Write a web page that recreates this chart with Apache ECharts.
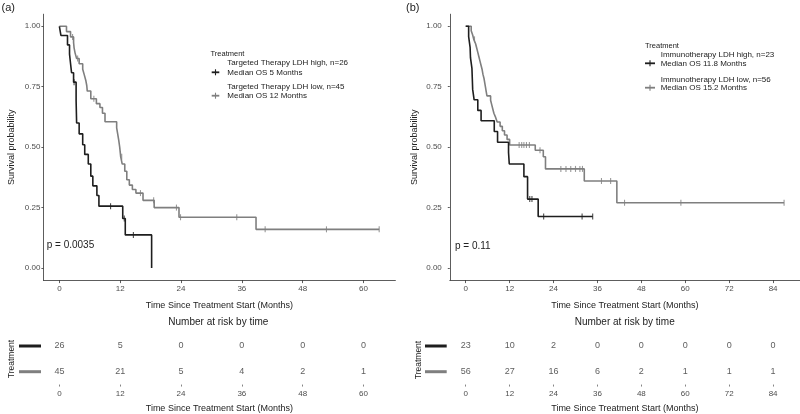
<!DOCTYPE html>
<html><head><meta charset="utf-8">
<script src="https://cdn.jsdelivr.net/npm/echarts@6/dist/echarts.min.js"></script>
<style>html,body{margin:0;padding:0;background:#fff}#c{width:800px;height:414px}</style>
</head><body><div id="c"></div>
<script>
// ---------- DATA ----------
const xTicksA = [0, 12, 24, 36, 48, 60];
const xTicksB = [0, 12, 24, 36, 48, 60, 72, 84];
const yTicks = [0, 0.25, 0.5, 0.75, 1];

// Panel (a) Targeted therapy, LDH high (n=26)
const aHighT = [0, 0.3, 1.6, 2.0, 2.2, 2.4, 2.8, 3.3, 3.4, 3.9, 4.6, 5.0, 5.7, 6.2, 6.6, 7.4, 7.8, 12.5, 13.0, 18.2];
const aHighS = [1, 0.962, 0.923, 0.885, 0.846, 0.808, 0.769, 0.692, 0.60, 0.555, 0.51, 0.47, 0.43, 0.38, 0.34, 0.30, 0.256, 0.205, 0.137, 0];
const aHighCens = [2.9, 10.1, 12.8, 14.6];
// Panel (a) Targeted therapy, LDH low (n=45)
const aLowT = [0, 1.4, 2.2, 2.8, 2.9, 3.1, 3.4, 3.9, 4.6, 4.9, 5.2, 5.4, 5.5, 6.2, 7.3, 8.0, 8.5, 9.0, 11.3, 11.5, 11.7, 11.9, 12.1, 12.4, 12.9, 13.3, 13.8, 14.4, 15.1, 16.5, 18.7, 23.6, 38.8, 63.1];
const aLowS = [1, 0.978, 0.956, 0.933, 0.911, 0.889, 0.867, 0.845, 0.822, 0.80, 0.777, 0.755, 0.732, 0.70, 0.68, 0.664, 0.64, 0.605, 0.58, 0.555, 0.53, 0.50, 0.46, 0.43, 0.40, 0.365, 0.343, 0.325, 0.31, 0.28, 0.25, 0.21, 0.16, 0.16];
const aLowCens = [2.6, 3.6, 6.8, 12.3, 16.0, 18.6, 23.1, 23.9, 35.0, 40.6, 52.7, 63.1];

// Panel (b) Immunotherapy, LDH high (n=23)
const bHighT = [0, 0.8, 1.2, 1.3, 1.7, 1.8, 1.9, 2.3, 3.3, 4.2, 7.8, 8.7, 11.7, 11.9, 15.9, 16.9, 19.8, 34.7];
const bHighS = [1, 0.957, 0.913, 0.870, 0.826, 0.783, 0.739, 0.696, 0.652, 0.609, 0.565, 0.520, 0.478, 0.430, 0.378, 0.285, 0.213, 0.213];
const bHighCens = [17.5, 18.1, 21.3, 31.8, 34.7];
// Panel (b) Immunotherapy, LDH low (n=56)
const bLowT = [0, 1.5, 1.9, 2.2, 2.7, 3.0, 3.3, 3.6, 3.9, 4.2, 4.5, 4.7, 5.0, 5.2, 5.4, 5.6, 5.8, 6.8, 7.1, 7.4, 7.7, 8.2, 8.6, 9.4, 10.0, 10.6, 11.3, 12.0, 19.0, 21.2, 21.8, 32.4, 41.3, 87.0];
const bLowS = [1, 0.982, 0.964, 0.946, 0.928, 0.910, 0.892, 0.874, 0.856, 0.838, 0.820, 0.802, 0.784, 0.766, 0.748, 0.730, 0.712, 0.694, 0.676, 0.658, 0.640, 0.622, 0.604, 0.586, 0.568, 0.550, 0.532, 0.509, 0.487, 0.460, 0.410, 0.360, 0.270, 0.270];
const bLowCens = [2.4, 14.6, 15.3, 15.9, 16.6, 17.4, 20.3, 26.0, 27.4, 28.7, 30.0, 31.2, 31.9, 37.1, 39.6, 43.4, 58.8, 87.0];

// Number at risk
const riskGroups = ['high', 'low'];
const riskTimesA = [0, 12, 24, 36, 48, 60];
const riskAHigh = [26, 5, 0, 0, 0, 0];
const riskALow = [45, 21, 5, 4, 2, 1];
const riskTimesB = [0, 12, 24, 36, 48, 60, 72, 84];
const riskBHigh = [23, 10, 2, 0, 0, 0, 0, 0];
const riskBLow = [56, 27, 16, 6, 2, 1, 1, 1];

// ---------- BUILD ----------
const FONT = '"Liberation Sans", Arial, Helvetica, sans-serif';
const BLACK = '#1e1e1e', GREY = '#7f7f7f';
function stepAt(T, S, c) { let v = S[0]; for (let i = 0; i < T.length; i++) if (T[i] <= c) v = S[i]; return v; }
function pairs(T, S) { return T.map((t, i) => [t, S[i]]); }
function cens(C, T, S) { return C.map(c => [c, stepAt(T, S, c)]); }
function riskData(times, hi, lo) {
  return times.map((t, i) => [t, 'high', hi[i]]).concat(times.map((t, i) => [t, 'low', lo[i]]));
}

const chart = echarts.init(document.getElementById('c'), null, { renderer: 'canvas' });
const rangeA = { min: -3.155, max: 66.3 }, rangeB = { min: -4.35, max: 91.35 };
const grids = [
  { left: 43.4, top: 14.2, width: 352, height: 265.9 },
  { left: 449.8, top: 14.2, width: 350.5, height: 265.9 },
  { left: 43.4, top: 333.15, width: 352, height: 51.4 },
  { left: 449.8, top: 333.15, width: 350.5, height: 51.4 }
];
const axisTitle = 'Time Since Treatment Start (Months)';
function mainX(gi, r, ticks) {
  return {
    type: 'value', gridIndex: gi, min: r.min, max: r.max,
    axisLine: { show: true, onZero: false, lineStyle: { color: '#333', width: 0.8 } },
    axisTick: { show: true, length: 3, customValues: ticks, lineStyle: { color: '#333', width: 0.8 } },
    axisLabel: { customValues: ticks, fontSize: 8, color: '#4d4d4d', margin: 5, fontFamily: FONT },
    splitLine: { show: false },
    name: axisTitle, nameLocation: 'middle', nameGap: 20.5,
    nameTextStyle: { fontSize: 9, color: '#222', fontFamily: FONT }
  };
}
function riskX(gi, r, ticks) {
  return {
    type: 'value', gridIndex: gi, min: r.min, max: r.max,
    axisLine: { show: false },
    axisTick: { show: true, length: 2, customValues: ticks, lineStyle: { color: '#666', width: 0.8 } },
    axisLabel: { customValues: ticks, fontSize: 8, color: '#4d4d4d', margin: 5, fontFamily: FONT },
    splitLine: { show: false },
    name: axisTitle, nameLocation: 'middle', nameGap: 19,
    nameTextStyle: { fontSize: 9, color: '#222', fontFamily: FONT }
  };
}
function mainY(gi, margin, gap) {
  return {
    type: 'value', gridIndex: gi, min: -0.05, max: 1.05,
    axisLine: { show: true, onZero: false, lineStyle: { color: '#333', width: 0.8 } },
    axisTick: { show: true, length: 2, customValues: yTicks, lineStyle: { color: '#333', width: 0.8 } },
    axisLabel: { customValues: yTicks, fontSize: 8, color: '#4d4d4d', margin: margin, fontFamily: FONT, formatter: v => v.toFixed(2) },
    splitLine: { show: false },
    name: 'Survival probability', nameLocation: 'middle', nameGap: gap,
    nameTextStyle: { fontSize: 9, color: '#222', fontFamily: FONT }
  };
}
function riskY(gi) {
  return { type: 'category', gridIndex: gi, data: riskGroups, inverse: true,
    axisLine: { show: false }, axisTick: { show: false }, axisLabel: { show: false }, splitLine: { show: false } };
}
function curve(xi, T, S, color) {
  return { type: 'line', xAxisIndex: xi, yAxisIndex: xi, data: pairs(T, S), step: 'end', showSymbol: false,
    lineStyle: { color: color, width: 1.6 }, silent: true, z: 3 };
}
function censor(xi, C, T, S, color) {
  return { type: 'scatter', xAxisIndex: xi, yAxisIndex: xi, data: cens(C, T, S), symbol: 'rect', symbolSize: [1.1, 6],
    itemStyle: { color: color }, silent: true, z: 4 };
}
function risk(xi, times, hi, lo) {
  return { type: 'scatter', xAxisIndex: xi, yAxisIndex: xi, data: riskData(times, hi, lo), symbolSize: 1,
    itemStyle: { color: 'rgba(0,0,0,0)' }, silent: true,
    label: { show: true, position: 'inside', formatter: p => String(p.value[2]), fontSize: 9, color: '#333', fontFamily: FONT } };
}
function txt(x, y, text, size, opts) {
  opts = opts || {};
  return { type: 'text', x: x, y: y, rotation: opts.rot || 0, silent: true,
    style: { text: text, fontSize: size, fontFamily: FONT, fill: opts.fill || '#222',
      align: opts.align || 'left', verticalAlign: 'middle' } };
}
function seg(x1, y1, x2, y2, color, w) {
  return { type: 'line', silent: true, shape: { x1: x1, y1: y1, x2: x2, y2: y2 }, style: { stroke: color, lineWidth: w } };
}
function key(x1, x2, y, color) {
  const m = (x1 + x2) / 2;
  return [seg(x1, y, x2, y, color, 1.8), seg(m, y - 3, m, y + 3, color, 1.1)];
}

const graphic = [
  txt(1.5, 7.5, '(a)', 11), txt(406, 7.5, '(b)', 11),
  txt(46.7, 245, 'p = 0.0035', 10), txt(455, 246.7, 'p = 0.11', 10),
  // legend (a)
  txt(210.5, 53.8, 'Treatment', 7.5),
  txt(227.3, 62.3, 'Targeted Therapy LDH high, n=26', 8),
  txt(227.3, 72.3, 'Median OS 5 Months', 8),
  txt(227.3, 86.5, 'Targeted Therapy LDH low, n=45', 8),
  txt(227.3, 95.7, 'Median OS 12 Months', 8),
  ...key(211.7, 219.3, 72.3, BLACK), ...key(211.7, 219.3, 95.7, GREY),
  // legend (b)
  txt(645, 45.7, 'Treatment', 7.5),
  txt(660.7, 54.3, 'Immunotherapy LDH high, n=23', 8),
  txt(660.7, 63.3, 'Median OS 11.8 Months', 8),
  txt(660.7, 79.3, 'Immunotherapy LDH low, n=56', 8),
  txt(660.7, 87.7, 'Median OS 15.2 Months', 8),
  ...key(645, 655, 63.3, BLACK), ...key(645, 655, 87.7, GREY),
  // risk tables
  txt(218.3, 322.7, 'Number at risk by time', 10, { align: 'center' }),
  txt(624.7, 322.7, 'Number at risk by time', 10, { align: 'center' }),
  txt(12, 359, 'Treatment', 8.5, { align: 'center', rot: Math.PI / 2 }),
  txt(418.3, 360, 'Treatment', 8.5, { align: 'center', rot: Math.PI / 2 }),
  seg(19, 346, 41, 346, BLACK, 3), seg(19, 371.7, 41, 371.7, GREY, 3),
  seg(425, 346, 446.7, 346, BLACK, 3), seg(425, 371.7, 446.7, 371.7, GREY, 3)
];

chart.setOption({
  animation: false,
  backgroundColor: '#fff',
  textStyle: { fontFamily: FONT },
  grid: grids,
  xAxis: [mainX(0, rangeA, xTicksA), mainX(1, rangeB, xTicksB), riskX(2, rangeA, xTicksA), riskX(3, rangeB, xTicksB)],
  yAxis: [mainY(0, 3, 27.5), mainY(1, 8, 31), riskY(2), riskY(3)],
  series: [
    curve(0, aLowT, aLowS, GREY), curve(0, aHighT, aHighS, BLACK),
    censor(0, aLowCens, aLowT, aLowS, GREY), censor(0, aHighCens, aHighT, aHighS, BLACK),
    curve(1, bLowT, bLowS, GREY), curve(1, bHighT, bHighS, BLACK),
    censor(1, bLowCens, bLowT, bLowS, GREY), censor(1, bHighCens, bHighT, bHighS, BLACK),
    risk(2, riskTimesA, riskAHigh, riskALow), risk(3, riskTimesB, riskBHigh, riskBLow)
  ],
  graphic: graphic
});
</script></body></html>
